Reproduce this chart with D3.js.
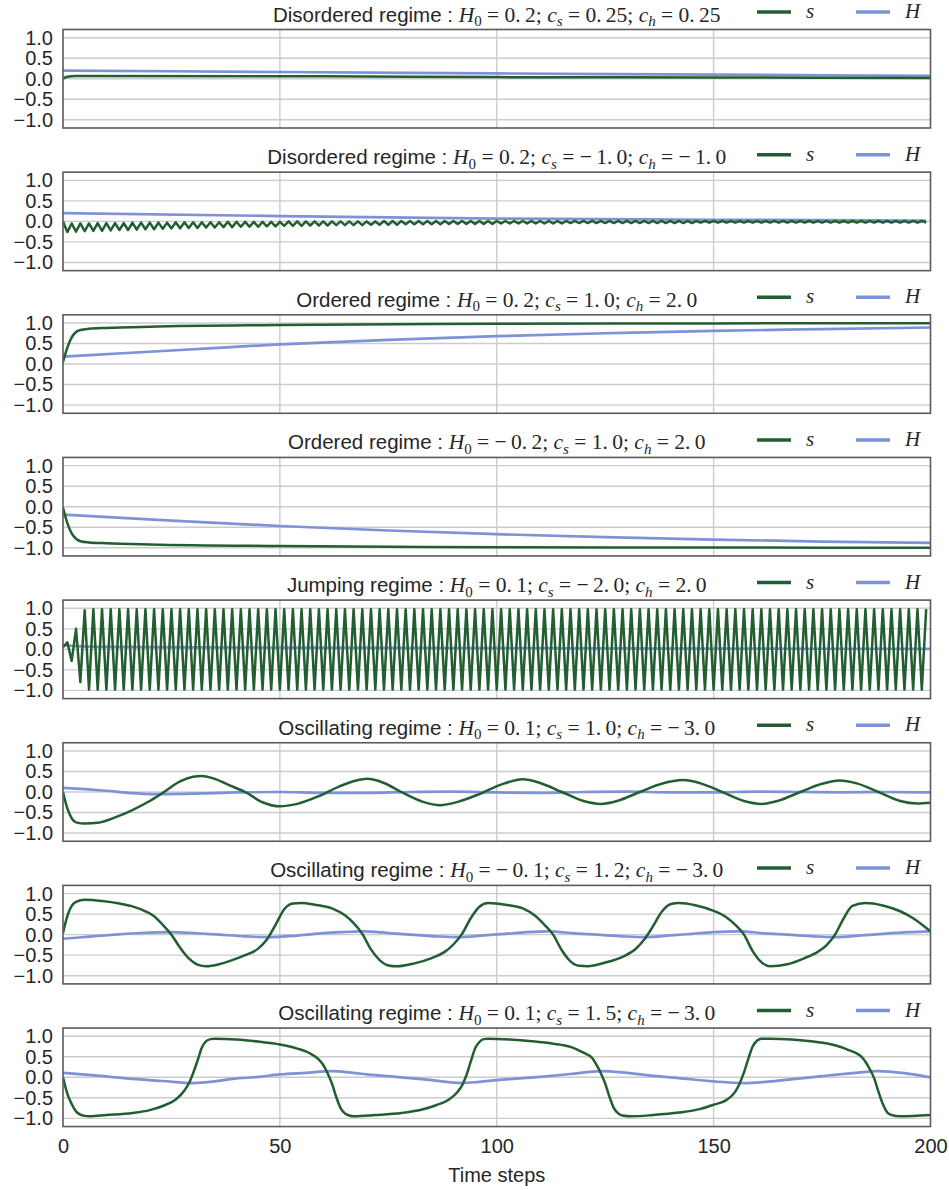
<!DOCTYPE html>
<html><head><meta charset="utf-8">
<script src="https://cdn.jsdelivr.net/npm/d3@7"></script>
<style>body{margin:0;background:#fff}svg{display:block}</style>
</head><body>
<svg id="chart" width="949" height="1190"></svg>
<script>
// ---------- data ----------
const xTicks = [0, 50, 100, 150, 200];
const yTicks = [-1.0, -0.5, 0.0, 0.5, 1.0];
const xLabel = "Time steps";
const regimes = ["Disordered regime","Disordered regime","Ordered regime","Ordered regime","Jumping regime","Oscillating regime","Oscillating regime","Oscillating regime"];
const H0s = ["0.2","0.2","0.2","−0.2","0.1","0.1","−0.1","0.1"];
const CSs = ["0.25","−1.0","1.0","1.0","−2.0","1.0","1.2","1.5"];
const CHs = ["0.25","−1.0","2.0","2.0","2.0","−3.0","−3.0","−3.0"];
const seriesNames = ["s", "H"];

// panel 1
const p1_s = [[0,0],[1,0.05],[3,0.07],[60,0.06],[100,0.04],[150,0.03],[200,0.02]];
const p1_H = [[0,0.2],[50,0.165],[100,0.13],[150,0.1],[200,0.07]];
// panel 2 (s read step by step, t = 0..199)
const p2_s = [
0,-0.26,-0.05,-0.25,-0.05,-0.24,-0.05,-0.23,-0.04,-0.23,-0.04,-0.22,-0.04,-0.21,-0.04,-0.21,-0.03,-0.20,-0.03,-0.19,
-0.03,-0.19,-0.03,-0.18,-0.03,-0.17,-0.02,-0.17,-0.02,-0.16,-0.02,-0.16,-0.02,-0.15,-0.02,-0.15,-0.02,-0.14,-0.01,-0.14,
-0.01,-0.13,-0.01,-0.13,-0.01,-0.13,-0.01,-0.12,-0.01,-0.12,-0.01,-0.11,0,-0.11,0,-0.11,0,-0.10,0,-0.10,
0,-0.10,0,-0.09,0,-0.09,0,-0.09,0,-0.09,0,-0.08,0,-0.08,0.01,-0.08,0.01,-0.08,0.01,-0.07,
0.01,-0.07,0.01,-0.07,0.01,-0.07,0.01,-0.07,0.01,-0.06,0.01,-0.06,0.01,-0.06,0.01,-0.06,0.01,-0.06,0.01,-0.06,
0.01,-0.05,0.01,-0.05,0.01,-0.05,0.01,-0.05,0.01,-0.05,0.01,-0.05,0.01,-0.05,0.01,-0.05,0.01,-0.04,0.01,-0.04,
0.01,-0.04,0.01,-0.04,0.01,-0.04,0.01,-0.04,0.01,-0.04,0.01,-0.04,0.01,-0.04,0.01,-0.04,0.01,-0.04,0.01,-0.04,
0.01,-0.04,0.01,-0.04,0.01,-0.04,0.01,-0.03,0.01,-0.03,0.01,-0.03,0.01,-0.03,0.01,-0.03,0.01,-0.03,0.01,-0.03,
0.01,-0.03,0.01,-0.03,0.01,-0.03,0.01,-0.03,0.01,-0.03,0.01,-0.03,0.01,-0.03,0.01,-0.03,0.01,-0.03,0.01,-0.03,
0.01,-0.03,0.01,-0.03,0.01,-0.03,0.01,-0.03,0.01,-0.03,0.01,-0.03,0.01,-0.03,0.01,-0.03,0.01,-0.03,0.01,-0.03];
const p2_H = [[0,0.2],[50,0.13],[100,0.07],[150,0.04],[199,0.02]];
// panel 3
const p3_s = [[0,0.05],[1,0.4],[2,0.65],[3,0.78],[4,0.83],[6,0.86],[10,0.88],[20,0.91],[50,0.95],[100,0.98],[150,0.99],[200,0.995]];
const p3_H = [[0,0.18],[25,0.33],[50,0.48],[75,0.59],[100,0.68],[125,0.75],[150,0.81],[175,0.85],[200,0.89]];
// panel 4
const p4_s = [[0,-0.02],[1,-0.4],[2,-0.65],[3,-0.78],[4,-0.84],[6,-0.87],[10,-0.89],[20,-0.92],[50,-0.96],[100,-0.985],[150,-0.995],[200,-1.0]];
const p4_H = [[0,-0.19],[25,-0.34],[50,-0.47],[75,-0.58],[100,-0.67],[125,-0.74],[150,-0.8],[175,-0.85],[200,-0.88]];
// panel 5 (s read step by step, t = 0..199)
const p5_s = [
0.05,0.17,-0.28,0.5,-0.8,0.95,-0.98,0.98,-0.98,0.98,-0.98,0.98,-0.98,0.98,-0.98,0.98,-0.98,0.98,-0.98,0.98,
-0.98,0.98,-0.98,0.98,-0.98,0.98,-0.98,0.98,-0.98,0.98,-0.98,0.98,-0.98,0.98,-0.98,0.98,-0.98,0.98,-0.98,0.98,
-0.98,0.98,-0.98,0.98,-0.98,0.98,-0.98,0.98,-0.98,0.98,-0.98,0.98,-0.98,0.98,-0.98,0.98,-0.98,0.98,-0.98,0.98,
-0.98,0.98,-0.98,0.98,-0.98,0.98,-0.98,0.98,-0.98,0.98,-0.98,0.98,-0.98,0.98,-0.98,0.98,-0.98,0.98,-0.98,0.98,
-0.98,0.98,-0.98,0.98,-0.98,0.98,-0.98,0.98,-0.98,0.98,-0.98,0.98,-0.98,0.98,-0.98,0.98,-0.98,0.98,-0.98,0.98,
-0.98,0.98,-0.98,0.98,-0.98,0.98,-0.98,0.98,-0.98,0.98,-0.98,0.98,-0.98,0.98,-0.98,0.98,-0.98,0.98,-0.98,0.98,
-0.98,0.98,-0.98,0.98,-0.98,0.98,-0.98,0.98,-0.98,0.98,-0.98,0.98,-0.98,0.98,-0.98,0.98,-0.98,0.98,-0.98,0.98,
-0.98,0.98,-0.98,0.98,-0.98,0.98,-0.98,0.98,-0.98,0.98,-0.98,0.98,-0.98,0.98,-0.98,0.98,-0.98,0.98,-0.98,0.98,
-0.98,0.98,-0.98,0.98,-0.98,0.98,-0.98,0.98,-0.98,0.98,-0.98,0.98,-0.98,0.98,-0.98,0.98,-0.98,0.98,-0.98,0.98,
-0.98,0.98,-0.98,0.98,-0.98,0.98,-0.98,0.98,-0.98,0.98,-0.98,0.98,-0.98,0.98,-0.98,0.98,-0.98,0.98,-0.98,0.98];
const p5_H = [[0,0.1],[3,0.08],[10,0.06],[30,0.05],[60,0.04],[100,0.03],[150,0.02],[200,0.01]];
// panel 6
const p6_s = [[0,0],[1,-0.4],[2,-0.64],[3,-0.74],[5,-0.77],[8,-0.75],[12,-0.62],[16,-0.44],[20,-0.22],[23,-0.02],[27,0.26],[30,0.37],[32,0.39],[35,0.32],[38,0.18],[42,0.0],[46,-0.25],[50,-0.35],[54,-0.29],[59,-0.1],[64,0.15],[69,0.31],[70,0.32],[74,0.22],[78,0.0],[83,-0.24],[87,-0.32],[91,-0.24],[96,-0.05],[101,0.18],[106,0.31],[110,0.22],[115,0.0],[120,-0.22],[124,-0.29],[128,-0.21],[133,0.0],[138,0.2],[143,0.29],[147,0.21],[152,0.0],[157,-0.22],[161,-0.29],[165,-0.21],[170,0.0],[175,0.2],[179,0.28],[183,0.21],[188,0.0],[193,-0.22],[197,-0.28],[200,-0.26]];
const p6_H = [[0,0.1],[5,0.07],[10,0.03],[15,-0.02],[22,-0.05],[30,-0.04],[40,-0.01],[50,0.0],[60,-0.02],[70,-0.02],[80,0.0],[90,0.01],[100,-0.01],[110,-0.02],[120,0.0],[130,0.01],[140,-0.01],[150,-0.01],[160,0.01],[170,0.0],[180,-0.01],[190,0.0],[200,-0.01]];
// panel 7
const p7_s = [[0,0.04],[1,0.45],[2,0.7],[3,0.8],[5,0.85],[9,0.82],[13,0.76],[16,0.69],[19,0.57],[21,0.45],[23,0.24],[25,0.0],[27,-0.32],[29,-0.58],[31,-0.73],[33,-0.77],[36,-0.72],[39,-0.62],[42,-0.5],[45,-0.34],[47,-0.12],[49,0.24],[51,0.62],[53,0.76],[55,0.77],[58,0.73],[62,0.64],[65,0.47],[67,0.28],[69,0.02],[71,-0.36],[73,-0.62],[75,-0.75],[77,-0.77],[81,-0.7],[85,-0.57],[88,-0.42],[90,-0.24],[92,0.02],[94,0.4],[96,0.68],[98,0.77],[102,0.73],[106,0.64],[109,0.45],[111,0.24],[113,0.0],[115,-0.38],[117,-0.65],[119,-0.76],[121,-0.77],[125,-0.68],[129,-0.54],[132,-0.35],[134,-0.12],[136,0.2],[138,0.55],[140,0.74],[142,0.77],[146,0.71],[150,0.58],[153,0.42],[155,0.24],[157,0.0],[159,-0.4],[161,-0.67],[163,-0.77],[167,-0.72],[171,-0.57],[174,-0.42],[176,-0.26],[178,0.0],[180,0.4],[182,0.7],[185,0.77],[189,0.71],[193,0.57],[196,0.4],[198,0.25],[200,0.08]];
const p7_H = [[0,-0.1],[6,-0.05],[12,0.0],[18,0.04],[25,0.06],[30,0.04],[36,0.0],[42,-0.04],[47,-0.06],[53,-0.03],[58,0.02],[64,0.06],[69,0.08],[75,0.04],[80,0.0],[86,-0.04],[91,-0.06],[97,-0.02],[102,0.02],[107,0.06],[112,0.08],[118,0.03],[123,0.0],[129,-0.04],[134,-0.06],[140,-0.02],[145,0.02],[150,0.06],[156,0.08],[162,0.03],[167,0.0],[173,-0.04],[178,-0.06],[184,-0.02],[189,0.02],[195,0.06],[200,0.08]];
// panel 8
const p8_s = [[0,0],[1,-0.4],[2,-0.65],[3,-0.83],[4,-0.91],[5,-0.94],[6,-0.95],[10,-0.92],[16,-0.87],[20,-0.8],[23,-0.7],[26,-0.54],[28,-0.32],[29,-0.15],[30,0.1],[31,0.4],[32,0.72],[33,0.88],[34,0.93],[35,0.94],[40,0.92],[45,0.87],[50,0.8],[54,0.7],[57,0.58],[59,0.43],[60,0.3],[61,0.1],[62,-0.15],[63,-0.48],[64,-0.75],[65,-0.88],[66,-0.93],[67,-0.95],[72,-0.92],[78,-0.87],[83,-0.78],[86,-0.68],[89,-0.54],[91,-0.35],[92,-0.2],[93,0.05],[94,0.38],[95,0.7],[96,0.86],[97,0.93],[98,0.94],[103,0.92],[108,0.88],[113,0.82],[117,0.74],[120,0.6],[122,0.47],[123,0.3],[124,0.1],[125,-0.15],[126,-0.48],[127,-0.75],[128,-0.88],[129,-0.93],[131,-0.95],[136,-0.92],[142,-0.86],[147,-0.77],[150,-0.67],[153,-0.55],[155,-0.35],[156,-0.15],[157,0.12],[158,0.45],[159,0.75],[160,0.89],[161,0.94],[163,0.94],[168,0.92],[173,0.87],[178,0.78],[181,0.67],[184,0.51],[185,0.38],[186,0.2],[187,-0.02],[188,-0.35],[189,-0.65],[190,-0.85],[191,-0.92],[193,-0.95],[200,-0.92]];
const p8_H = [[0,0.11],[8,0.04],[16,-0.04],[23,-0.09],[30,-0.14],[35,-0.1],[39,-0.04],[45,0.01],[50,0.07],[56,0.11],[62,0.15],[66,0.12],[70,0.07],[78,0.0],[85,-0.07],[92,-0.14],[96,-0.11],[100,-0.07],[110,0.01],[117,0.08],[124,0.15],[129,0.12],[134,0.06],[142,-0.02],[150,-0.1],[157,-0.14],[162,-0.11],[166,-0.07],[175,0.03],[182,0.1],[188,0.15],[194,0.1],[200,0.0]];

const stepSeries = v => v.map((y, t) => [t, y]);
const panels = [
  {s: p1_s, H: p1_H, curve: d3.curveMonotoneX},
  {s: stepSeries(p2_s), H: p2_H, curve: d3.curveLinear},
  {s: p3_s, H: p3_H, curve: d3.curveMonotoneX},
  {s: p4_s, H: p4_H, curve: d3.curveMonotoneX},
  {s: stepSeries(p5_s), H: p5_H, curve: d3.curveLinear},
  {s: p6_s, H: p6_H, curve: d3.curveMonotoneX},
  {s: p7_s, H: p7_H, curve: d3.curveMonotoneX},
  {s: p8_s, H: p8_H, curve: d3.curveMonotoneX}
];

// ---------- layout ----------
const SANS = "'Liberation Sans', Arial, sans-serif";
const SERIF = "'Liberation Serif', 'Times New Roman', serif";
const colS = "#225e31", colH = "#7d92d8";
const left = 63, right = 930.5, top0 = 29.5, step = 142.65, ph = 98.5;
const svg = d3.select("#chart");
const x = d3.scaleLinear().domain([0, 200]).range([left, right]);

const fmtNum = s => s.replace("−", "−\u2009").replace(".", ".\u2009");

panels.forEach((p, i) => {
  const top = top0 + i * step;
  const y = d3.scaleLinear().domain([-1.2, 1.2]).range([top + ph, top]);
  const g = svg.append("g");

  // grid
  g.append("g").selectAll("line").data(yTicks).join("line")
    .attr("x1", left).attr("x2", right).attr("y1", d => y(d)).attr("y2", d => y(d))
    .attr("stroke", "#cccccc").attr("stroke-width", 1.4);
  g.append("g").selectAll("line").data(xTicks.slice(1, -1)).join("line")
    .attr("y1", top).attr("y2", top + ph).attr("x1", d => x(d)).attr("x2", d => x(d))
    .attr("stroke", "#cccccc").attr("stroke-width", 1.4);

  // y axis labels
  const yAxis = d3.axisLeft(y).tickValues(yTicks).tickSize(0).tickPadding(10)
    .tickFormat(d => d3.format(".1f")(d).replace("-", "−"));
  const ya = g.append("g").attr("transform", `translate(${left},0)`).call(yAxis);
  ya.select(".domain").remove();
  ya.selectAll("text").attr("font-family", SANS).attr("font-size", 20).attr("fill", "#262626");

  // clip
  const cid = "clip" + i;
  svg.append("clipPath").attr("id", cid).append("rect")
    .attr("x", left).attr("y", top).attr("width", right - left).attr("height", ph);

  const line = d3.line().x(d => x(d[0])).y(d => y(d[1])).curve(p.curve);
  const lineH = d3.line().x(d => x(d[0])).y(d => y(d[1])).curve(d3.curveMonotoneX);
  const lg = g.append("g").attr("clip-path", `url(#${cid})`);
  lg.append("path").datum(p.H).attr("d", lineH).attr("fill", "none")
    .attr("stroke", colH).attr("stroke-width", 2.7);
  lg.append("path").datum(p.s).attr("d", line).attr("fill", "none")
    .attr("stroke", colS).attr("stroke-width", 2.5).attr("stroke-linejoin", "round");

  // frame
  g.append("rect").attr("x", left).attr("y", top).attr("width", right - left).attr("height", ph)
    .attr("fill", "none").attr("stroke", "#5a5a5a").attr("stroke-width", 1.6);

  // title
  const t = g.append("text").attr("x", (left + right) / 2).attr("y", top - 8)
    .attr("text-anchor", "middle").attr("fill", "#262626");
  t.append("tspan").attr("font-family", SANS).attr("font-size", 20.5).text(regimes[i] + " : ");
  const m = (txt, it, dy) => t.append("tspan").attr("font-family", SERIF).attr("font-size", 21.5)
    .attr("font-style", it ? "italic" : "normal").attr("dy", dy || 0).text(txt);
  const sub = (txt, it) => t.append("tspan").attr("font-family", SERIF)
      .attr("font-style", it ? "italic" : "normal")
      .attr("font-size", 15).attr("dy", 4.5).text(txt);
  m("H", true); sub("0", false);
  m(" = " + fmtNum(H0s[i]) + "; ", false, -4.5);
  m("c", true); sub("s", true);
  m(" = " + fmtNum(CSs[i]) + "; ", false, -4.5);
  m("c", true); sub("h", true);
  m(" = " + fmtNum(CHs[i]), false, -4.5);

  // legend
  const ly = top - 17.5;
  [[757, colS, seriesNames[0]], [856, colH, seriesNames[1]]].forEach(([lx, c, n]) => {
    g.append("line").attr("x1", lx).attr("x2", lx + 34).attr("y1", ly).attr("y2", ly)
      .attr("stroke", c).attr("stroke-width", 3.5);
    g.append("text").attr("x", lx + 49).attr("y", ly + 6).attr("font-family", SERIF)
      .attr("font-style", "italic").attr("font-size", 21).attr("fill", "#262626").text(n);
  });

  // x axis labels (last panel only)
  if (i === panels.length - 1) {
    const xa = g.append("g").attr("transform", `translate(0,${top + ph})`)
      .call(d3.axisBottom(x).tickValues(xTicks).tickSize(0).tickPadding(12).tickFormat(d3.format("d")));
    xa.select(".domain").remove();
    xa.selectAll("text").attr("font-family", SANS).attr("font-size", 20).attr("fill", "#262626");
    g.append("text").attr("x", (left + right) / 2).attr("y", 1181.5).attr("text-anchor", "middle")
      .attr("font-family", SANS).attr("font-size", 20).attr("fill", "#262626").text(xLabel);
  }
});
</script>
</body></html>
